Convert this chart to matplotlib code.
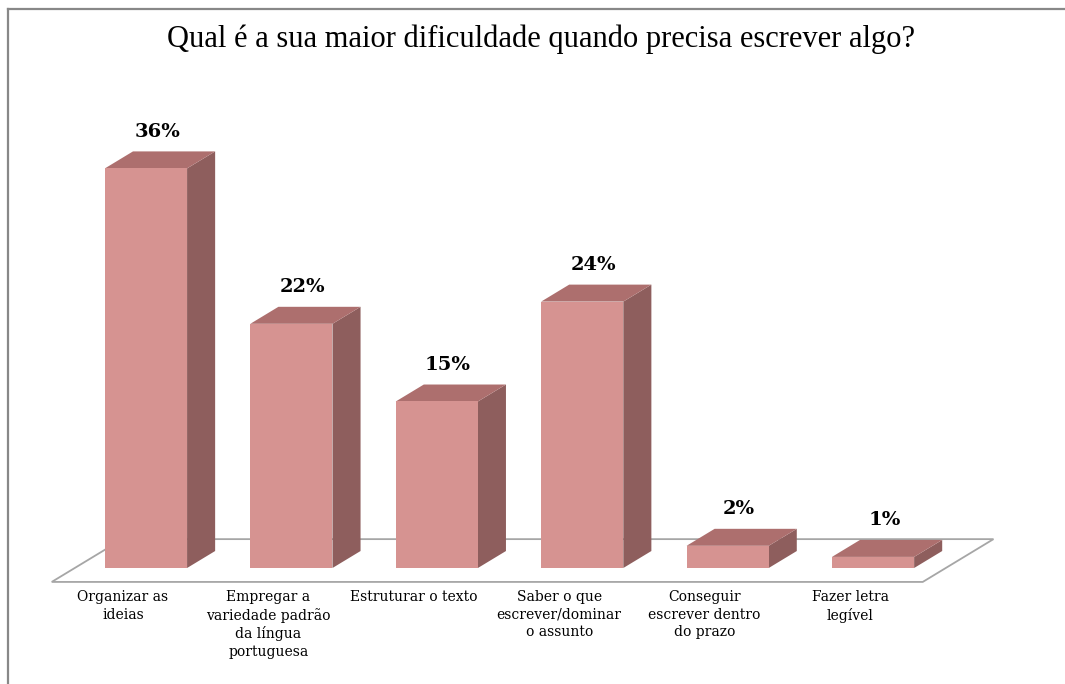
import numpy as np
import matplotlib.pyplot as plt
from matplotlib.patches import Polygon
from matplotlib.lines import Line2D

categorias = [
    "Organizar as\nideias",
    "Empregar a\nvariedade padrão\nda língua\nportuguesa",
    "Estruturar o texto",
    "Saber o que\nescrever/dominar\no assunto",
    "Conseguir\nescrever dentro\ndo prazo",
    "Fazer letra\nlegível",
]
valores = [36, 22, 15, 24, 2, 1]
titulo = "Qual é a sua maior dificuldade quando precisa escrever algo?"

cor_frente = "#D69391"
cor_lado = "#8E5E5D"
cor_topo = "#AD6F6E"
cor_piso = "#A6A6A6"

largura = 0.565          # largura da barra (unidades de categoria)
prof = np.array([0.193, 1.53])   # deslocamento de profundidade (x, y)

fig = plt.figure(figsize=(10.65, 6.84), dpi=100)
ax = fig.add_axes([0, 0, 1, 1])
ax.set_xlim(-1.004, 6.32)
ax.set_ylim(-10.45, 51.17)
ax.axis("off")

# piso em perspectiva
n = len(valores)
x0, x1 = -0.49, n - 1 + 0.50
f, b = -0.82, 1.7
piso = [(x0 + f * prof[0], f * prof[1]), (x1 + f * prof[0], f * prof[1]),
        (x1 + b * prof[0], b * prof[1]), (x0 + b * prof[0], b * prof[1])]
ax.add_patch(Polygon(piso, closed=True, facecolor="white", edgecolor=cor_piso,
                     linewidth=1.3, zorder=1))

dx, dy = prof
for i, v in enumerate(valores):
    l, r = i - largura / 2, i + largura / 2
    frente = [(l, 0), (r, 0), (r, v), (l, v)]
    lado = [(r, 0), (r + dx, dy), (r + dx, v + dy), (r, v)]
    topo = [(l, v), (r, v), (r + dx, v + dy), (l + dx, v + dy)]
    ax.add_patch(Polygon(lado, closed=True, facecolor=cor_lado, edgecolor="none", zorder=2))
    ax.add_patch(Polygon(topo, closed=True, facecolor=cor_topo, edgecolor="none", zorder=2))
    ax.add_patch(Polygon(frente, closed=True, facecolor=cor_frente, edgecolor="none", zorder=2))
    ax.text(i + dx * 0.4, v + dy + 1.75, f"{v}%", ha="center", va="center",
            fontsize=14, fontweight="bold", family="DejaVu Serif", zorder=3)
    ax.text(i + f * dx, -2.0, categorias[i], ha="center", va="top",
            fontsize=10, family="DejaVu Serif", linespacing=1.3, zorder=3)

fig.text(0.508, 0.942, titulo, ha="center", va="center",
         fontsize=22, family="Liberation Serif")

# moldura (apenas topo e esquerda)
fig.add_artist(Line2D([7.5 / 1065, 1], [1 - 8.5 / 684, 1 - 8.5 / 684],
                      transform=fig.transFigure, color="#888888", linewidth=1.6))
fig.add_artist(Line2D([7.5 / 1065, 7.5 / 1065], [0, 1 - 8.5 / 684],
                      transform=fig.transFigure, color="#888888", linewidth=1.6))

fig.savefig("out.png", dpi=100)
